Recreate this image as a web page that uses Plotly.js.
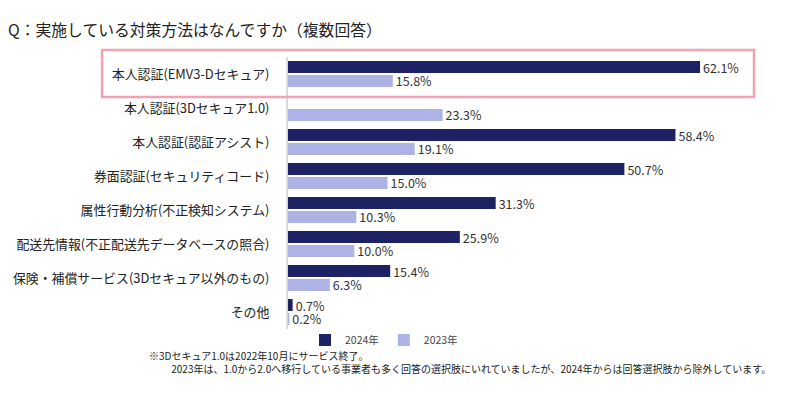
<!DOCTYPE html>
<html>
<head>
<meta charset="utf-8">
<script src="https://cdn.plot.ly/plotly-3.0.1.min.js"></script>
<style>html,body{margin:0;padding:0;background:#fff;}#chart{width:800px;height:395px;}</style>
</head>
<body>
<div id="chart"></div>
<script>
const categories = [
  "本人認証(EMV3-Dセキュア)",
  "本人認証(3Dセキュア1.0)",
  "本人認証(認証アシスト)",
  "券面認証(セキュリティコード)",
  "属性行動分析(不正検知システム)",
  "配送先情報(不正配送先データベースの照合)",
  "保険・補償サービス(3Dセキュア以外のもの)",
  "その他"
];
const values2024 = [62.1, null, 58.4, 50.7, 31.3, 25.9, 15.4, 0.7];
const values2023 = [15.8, 23.3, 19.1, 15.0, 10.3, 10.0, 6.3, 0.2];
const seriesNames = ["2024年", "2023年"];
const titleText = "Q：実施している対策方法はなんですか（複数回答）";
const noteLine1 = "※3Dセキュア1.0は2022年10月にサービス終了。";
const noteLine2 = "2023年は、1.0から2.0へ移行している事業者も多く回答の選択肢にいれていましたが、2024年からは回答選択肢から除外しています。";

const FONT = '"Noto Sans CJK JP", "Noto Sans", sans-serif';
const L = 288, R = 40, T = 57, B = 66, W = 800, H = 395;
const pw = W - L - R, ph = H - T - B;
const px2x = px => (px - L) / pw;
const py2y = py => (H - B - py) / ph;

const common = {
  type: 'bar', orientation: 'h', y: categories,
  texttemplate: '%{x:.1f}%', textposition: 'outside', cliponaxis: false,
  constraintext: 'none',
  textfont: {family: FONT, size: 12.5, color: '#333'},
  hoverinfo: 'x+y'
};
const traces = [
  Object.assign({}, common, {x: values2024, name: seriesNames[0], marker: {color: '#1c2264'}}),
  Object.assign({}, common, {x: values2023, name: seriesNames[1], marker: {color: '#aeb3e6'}})
];

const layout = {
  width: W, height: H,
  margin: {l: L, r: R, t: T, b: B, pad: 0},
  paper_bgcolor: '#fff', plot_bgcolor: '#fff',
  font: {family: FONT, color: '#222'},
  barmode: 'group', bargap: 0.18, bargroupgap: 0.14,
  title: {text: titleText, font: {family: FONT, size: 15.8, color: '#222'},
          x: 0.01, xanchor: 'left', xref: 'container', y: 0.922, yanchor: 'middle', yref: 'container'},
  xaxis: {range: [0, pw / 6.635], showgrid: false, zeroline: false, showticklabels: false, ticks: '', showline: false, fixedrange: true},
  yaxis: {autorange: 'reversed', showgrid: false, zeroline: false, ticks: '', showline: true,
          linecolor: '#d9d9d9', linewidth: 2, ticklabelstandoff: 14,
          tickfont: {family: FONT, size: 12.9, color: '#222'}},
  showlegend: true,
  legend: {orientation: 'h', x: px2x(305), xanchor: 'left', y: py2y(340), yanchor: 'middle',
           font: {family: FONT, size: 10.5, color: '#444'}, itemwidth: 30, traceorder: 'normal',
           bgcolor: 'rgba(0,0,0,0)'},
  shapes: [{type: 'rect', xref: 'paper', yref: 'paper',
            x0: px2x(102), x1: px2x(754), y0: py2y(97), y1: py2y(50),
            line: {color: '#f2a2b5', width: 2.5}, fillcolor: 'rgba(0,0,0,0)'}],
  annotations: [
    {text: noteLine1 + '<br>\u3000\u3000\u00a0' + noteLine2, align: 'left',
     xref: 'paper', yref: 'paper', x: px2x(147), y: py2y(346), xanchor: 'left', yanchor: 'top',
     showarrow: false, font: {family: FONT, size: 10, color: '#222'}}
  ]
};
Plotly.newPlot('chart', traces, layout, {displayModeBar: false, staticPlot: true});
</script>
</body>
</html>
